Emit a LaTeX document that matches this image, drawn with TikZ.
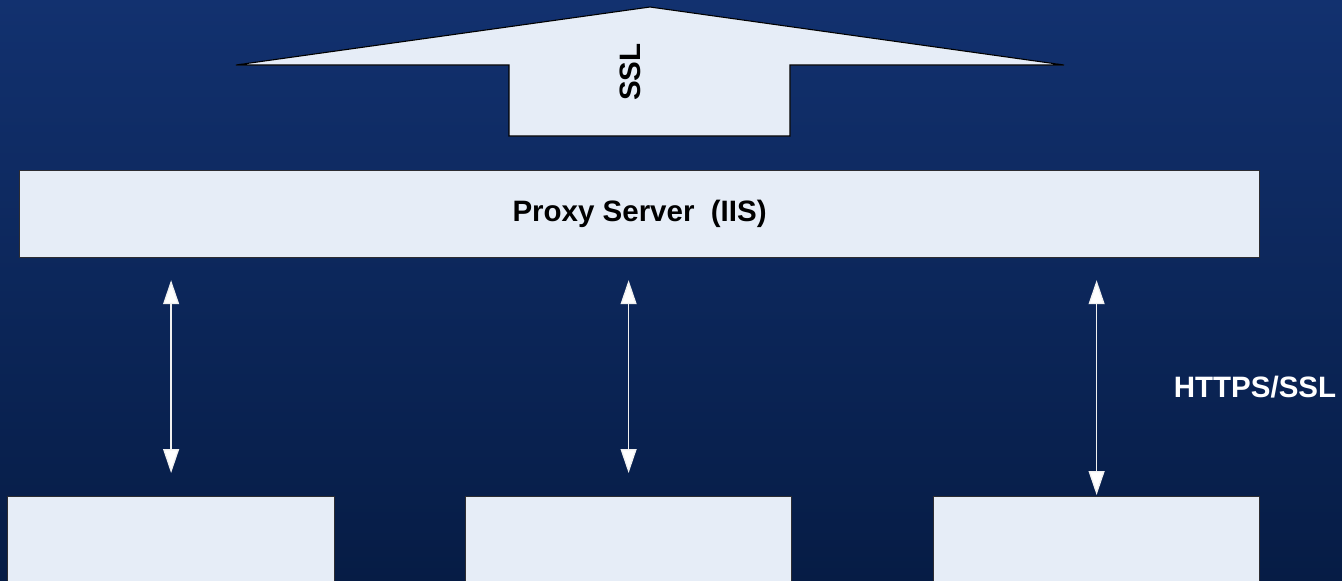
\documentclass[tikz,border=0pt]{standalone}
\usepackage{fontspec}
\setmainfont{Liberation Sans}
\usetikzlibrary{arrows.meta}
\definecolor{bgtop}{RGB}{18,49,111}
\definecolor{bgbot}{RGB}{6,28,69}
\definecolor{boxfill}{RGB}{230,237,247}
\definecolor{boxline}{RGB}{45,45,50}
\tikzset{
  box/.style={draw=boxline, line width=1.2pt, fill=boxfill, anchor=north west, inner sep=0pt,
    font=\bfseries\fontsize{29.5}{33}\selectfont, text=black},
  lbl/.style={font=\bfseries\fontsize{29.5}{33}\selectfont, inner sep=0pt},
  dbl/.style={draw=white!88!gray, line width=1.3pt,
    {Triangle[width=16pt,length=24pt,fill=white]}-{Triangle[width=16pt,length=24pt,fill=white]}},
  bigarrow/.style={draw=black, line width=1.1pt, fill=boxfill}
}
\begin{document}
\begin{tikzpicture}[x=1pt,y=-1pt]
\clip (0,0) rectangle (1342,581);
\shade[top color=bgtop, bottom color=bgbot] (0,0) rectangle (1342,581);
% big SSL arrow
\draw[bigarrow] (650,7) -- (1064,65) -- (790,65) -- (790,136) -- (509,136) -- (509,65) -- (236,65) -- cycle;
\node[lbl, rotate=90, text=black] (ssl) at (630,72) {SSL};
% proxy
\node[box, minimum width=1240, minimum height=87] (proxy) at (19,170) {Proxy Server\ \ (IIS)};
% bottom boxes
\node[box, minimum width=327, minimum height=120] (b1) at (7,496) {};
\node[box, minimum width=326, minimum height=120] (b2) at (465,496) {};
\node[box, minimum width=326, minimum height=120] (b3) at (933,496) {};
% connectors
\draw[dbl, shorten <=22pt, shorten >=23pt] (proxy.south -| b1.north) -- (b1.north);
\draw[dbl, shorten <=22pt, shorten >=23pt] (proxy.south -| b2.north) -- (b2.north);
\draw[dbl, shorten <=22pt, shorten >=1pt] (proxy.south -| b3.north) -- (b3.north);
\node[lbl, text=white, anchor=base] (https) at (1255,397) {HTTPS/SSL};
\end{tikzpicture}
\end{document}
